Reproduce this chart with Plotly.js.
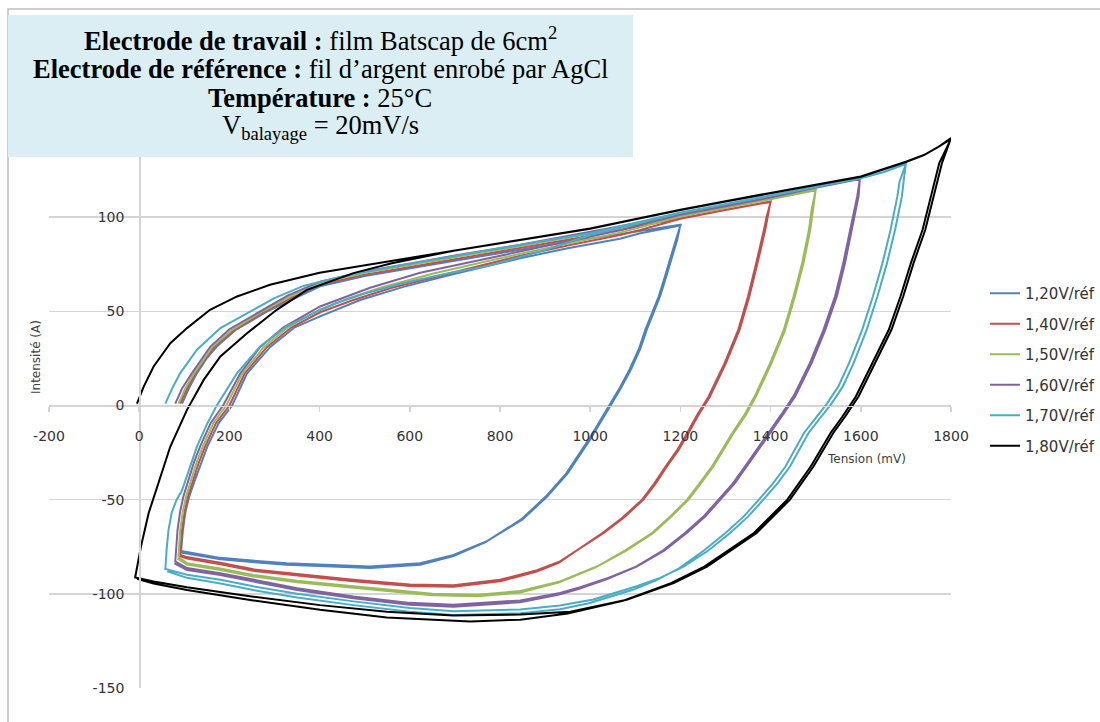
<!DOCTYPE html>
<html>
<head>
<meta charset="utf-8">
<script src="https://cdn.plot.ly/plotly-3.0.1.min.js"></script>
<style>html,body{margin:0;padding:0;background:#fff;}#chart{width:1100px;height:722px;}</style>
</head>
<body>
<div id="chart"></div>
<script>
// ---------- Tick labels ----------
const xTickVals = [-200, 0, 200, 400, 600, 800, 1000, 1200, 1400, 1600, 1800];
const xTickText = ["-200", "0", "200", "400", "600", "800", "1000", "1200", "1400", "1600", "1800"];
const yTickVals = [-150, -100, -50, 0, 50, 100, 150];
const yTickText = ["-150", "-100", "-50", "0", "50", "100", "150"];

// ---------- Series names / colours ----------
const seriesNames = ["1,20V/réf", "1,40V/réf", "1,50V/réf", "1,60V/réf", "1,70V/réf", "1,80V/réf"];
const seriesColors = ["#4F81BD", "#C0504D", "#9BBB59", "#8064A2", "#4BACC6", "#000000"];

// ---------- Info box lines ----------
const infoLines = [
  '<b>Electrode de travail :</b> film Batscap de 6cm<sup>2</sup>',
  '<b>Electrode de référence :</b> fil d’argent enrobé par AgCl',
  '<b>Température :</b> 25°C',
  'V<sub>balayage</sub> = 20mV/s'
];

// ---------- 1,20V/réf ----------
const v120_up1_x = [95, 110, 128, 151, 172, 213, 284, 345, 401, 500, 623, 720, 845, 950, 1066, 1130, 1200];
const v120_up1_y = [1, 9, 17.2, 25.5, 31.3, 40, 50, 57, 63.3, 68.8, 73.8, 77.8, 82.7, 87, 91, 93.5, 96];
const v120_down1_x = [1193, 1181, 1168, 1155, 1140, 1125, 1111, 1090, 1066, 1035, 1000, 950, 904, 850, 771, 697, 623, 512, 400, 327, 250, 180, 93];
const v120_down1_y = [88, 79, 68, 58, 49, 40, 30, 19, 8.3, -4, -18, -36, -48.5, -60.5, -72, -79.3, -83.7, -85.5, -84.5, -83.7, -82.3, -80.9, -77.2];
const v120_up2_x = [97, 103, 111, 124, 137, 151, 176, 206, 239, 290, 345, 401, 490, 586, 700, 845, 950, 1066, 1111, 1200];
const v120_up2_y = [-66, -56, -48.3, -39.4, -30.5, -21.8, -9.5, 0, 17, 31, 41.5, 47.3, 56, 63, 70, 78.2, 83.5, 88.5, 91.5, 95.5];
const v120_down2_x = [1190, 1178, 1165, 1152, 1137, 1122, 1108, 1087, 1063, 1032, 997, 947, 901, 847, 768, 697, 623, 512, 400, 327, 250, 180, 92];
const v120_down2_y = [88, 79, 68, 58, 49, 40, 30, 19, 8.3, -4, -18, -36, -48.5, -60.5, -72.5, -80, -84.5, -86.3, -85.3, -84.5, -83.1, -81.7, -78];

// ---------- 1,40V/réf ----------
const v140_up1_x = [91, 106, 125, 148, 167, 209, 279, 340, 401, 500, 623, 720, 845, 950, 1066, 1200, 1300, 1400];
const v140_up1_y = [1, 9, 17.2, 25.5, 31.3, 40, 50, 57.5, 64.2, 69.5, 74.5, 78.5, 83.5, 88, 93.2, 99.5, 104, 108.3];
const v140_down1_x = [1394, 1388, 1371, 1353, 1331, 1301, 1265, 1240, 1218, 1195, 1170, 1145, 1118, 1075, 1030, 980, 933, 882, 800, 697, 600, 475, 350, 253, 180, 106, 91];
const v140_down1_y = [100, 93, 75.6, 58, 40, 22.5, 4.5, -5, -14.6, -24, -32.4, -41.5, -50, -59.5, -67.7, -75.5, -82.8, -87.5, -92.5, -95.5, -95, -92.5, -89.5, -87, -83.5, -80.5, -79.3];
const v140_up2_x = [95, 101, 108, 120, 132, 146, 170, 200, 234, 283, 338, 401, 475, 560, 700, 845, 950, 1066, 1111, 1200, 1300, 1400];
const v140_up2_y = [-66, -56, -48.3, -39.4, -30.5, -21.8, -9.5, 0, 17, 31, 41.5, 49.5, 56, 62.5, 71, 79.5, 85, 90.5, 93.2, 99.2, 103.8, 108.1];
const v140_down2_x = [1391, 1385, 1368, 1350, 1328, 1298, 1262, 1237, 1215, 1192, 1167, 1142, 1115, 1072, 1027, 977, 930, 880, 800, 697, 600, 475, 350, 253, 180, 106, 89];
const v140_down2_y = [100, 93, 75.6, 58, 40, 22.5, 4.5, -5, -14.6, -24, -32.4, -41.5, -50, -59.5, -67.7, -76, -83.5, -88.3, -93.3, -96.3, -95.8, -93.3, -90.3, -87.8, -84.3, -81.3, -80];

// ---------- 1,50V/réf ----------
const v150_up1_x = [87, 102, 122, 145, 163, 205, 274, 336, 401, 500, 623, 720, 845, 950, 1066, 1200, 1300, 1400, 1500];
const v150_up1_y = [1, 9, 17.2, 25.5, 31.3, 40, 50, 58, 65, 70.5, 75.5, 79.5, 84.5, 89, 94.2, 100.6, 105, 109.8, 114.5];
const v150_down1_x = [1494, 1488, 1473, 1454, 1432, 1402, 1368, 1345, 1318, 1295, 1273, 1245, 1218, 1180, 1140, 1080, 1015, 933, 845, 750, 650, 475, 350, 253, 180, 106, 87];
const v150_down1_y = [104, 93.3, 75.6, 58, 40, 22.5, 5, -5, -14.6, -23.5, -32.4, -41.5, -50, -59, -67.7, -77, -85.5, -93.4, -98.5, -100.5, -100, -96, -93, -90, -86.5, -83.7, -80.5];
const v150_up2_x = [91, 97, 104, 115, 127, 141, 164, 193, 229, 276, 330, 401, 465, 535, 650, 845, 950, 1066, 1111, 1200, 1300, 1400, 1500];
const v150_up2_y = [-66, -56, -48.3, -39.4, -30.5, -21.8, -9.5, 0, 17, 31, 41.5, 51, 57, 62.5, 70, 80.6, 86, 91.8, 94.6, 100.3, 104.8, 109.6, 114.3];
const v150_down2_x = [1491, 1485, 1470, 1451, 1429, 1399, 1365, 1342, 1315, 1292, 1270, 1242, 1215, 1177, 1137, 1077, 1012, 930, 845, 750, 650, 475, 350, 253, 180, 106, 85];
const v150_down2_y = [104, 93.3, 75.6, 58, 40, 22.5, 5, -5, -14.6, -23.5, -32.4, -41.5, -50, -59, -67.7, -77, -86, -94, -99.3, -101.3, -100.8, -96.8, -93.8, -90.8, -87.3, -84.5, -81.3];

// ---------- 1,60V/réf ----------
const v160_up1_x = [80, 95, 117, 140, 158, 200, 268, 330, 401, 500, 623, 720, 845, 950, 1066, 1200, 1300, 1400, 1500, 1598];
const v160_up1_y = [1, 9, 17.2, 25.5, 31.3, 40.5, 50, 58.5, 65.8, 71.2, 76.4, 80.5, 85.3, 90, 95.2, 101.6, 106, 110.6, 115.8, 120.4];
const v160_down1_x = [1595, 1580, 1565, 1547, 1521, 1491, 1455, 1430, 1399, 1375, 1347, 1320, 1288, 1255, 1214, 1165, 1103, 1040, 978, 933, 845, 697, 600, 475, 350, 253, 180, 106, 80];
const v160_down1_y = [111, 93.3, 75.6, 58, 40, 22.5, 5, -4, -14.6, -23.5, -32.4, -41.5, -50, -59, -67.7, -77, -85.5, -91.5, -96.5, -99.5, -103.5, -105.8, -104.8, -101.4, -97, -92.5, -89, -86.3, -82.8];
const v160_up2_x = [85, 91, 98, 109, 121, 135, 158, 186, 224, 268, 320, 401, 450, 512, 623, 720, 845, 950, 1066, 1111, 1200, 1300, 1400, 1500, 1598];
const v160_up2_y = [-66, -56, -48.3, -39.4, -30.5, -21.8, -9.5, 0, 17, 31, 41.5, 52.6, 57, 62.5, 70.5, 75.5, 81.9, 87, 93, 96, 101.3, 105.8, 110.4, 115.6, 120.2];
const v160_down2_x = [1592, 1576, 1561, 1543, 1517, 1487, 1451, 1426, 1395, 1371, 1343, 1316, 1284, 1251, 1210, 1161, 1099, 1036, 974, 929, 845, 697, 600, 475, 350, 253, 180, 106, 78];
const v160_down2_y = [111, 93.3, 75.6, 58, 40, 22.5, 5, -4, -14.6, -23.5, -32.4, -41.5, -50, -59, -67.7, -77, -86, -92.3, -97.5, -100.5, -104.5, -106.8, -105.8, -102.4, -98, -93.5, -90, -87.3, -83.8];

// ---------- 1,70V/réf ----------
const v170_up1_x = [58, 75, 91, 128, 180, 246, 300, 364, 450, 549, 700, 850, 1000, 1111, 1200, 1300, 1400, 1500, 1600, 1650, 1700];
const v170_up1_y = [1, 10, 17.2, 29.6, 41.1, 50, 57, 63.5, 68.5, 73.2, 79.5, 85.5, 91.5, 97.6, 102.5, 107, 111.5, 116.3, 120.9, 124, 128.5];
const v170_down1_x = [1695, 1691, 1676, 1658, 1637, 1613, 1584, 1560, 1535, 1512, 1484, 1443, 1415, 1384, 1350, 1310, 1262, 1207, 1155, 1103, 1050, 1007, 933, 845, 697, 600, 475, 350, 253, 180, 106, 58];
const v170_down1_y = [119, 110.9, 93.3, 75.6, 58, 40.2, 22.5, 10, 1, -6, -14.6, -32.4, -41.5, -50, -59, -67.7, -77, -85.5, -91.5, -96, -100, -103, -106.2, -108.3, -109.3, -107.5, -104, -100, -96, -92.5, -89.9, -86.8];
const v170_up2_x = [61, 65, 72, 83, 95, 105, 116, 128, 150, 172, 217, 268, 327, 400, 438, 500, 586, 680, 771, 900, 1000, 1111, 1200, 1300, 1400, 1500, 1600, 1650, 1700];
const v170_up2_y = [-76, -66, -57, -50, -45, -38, -30, -21.8, -10, 0, 17.2, 31.3, 42, 50.5, 54.4, 59.5, 65, 70, 74, 82.5, 90.5, 97.2, 102.2, 106.8, 111.3, 116, 120.7, 123.8, 128.2];
const v170_down2_x = [1686, 1681, 1666, 1648, 1627, 1603, 1574, 1550, 1525, 1502, 1474, 1433, 1405, 1374, 1340, 1300, 1252, 1197, 1145, 1093, 1040, 997, 933, 845, 697, 600, 475, 350, 253, 180, 106, 62];
const v170_down2_y = [119, 110.9, 93.3, 75.6, 58, 40.2, 22.5, 10, 1, -6, -14.6, -32.4, -41.5, -50, -59, -67.7, -77, -86.5, -93, -98, -102, -105, -108.2, -110.3, -111.3, -109.5, -106, -102, -98, -94.5, -91.5, -88];

// ---------- 1,80V/réf ----------
const v180_up1_x = [-5, 10, 32, 69, 106, 157, 217, 290, 400, 550, 700, 850, 1000, 1111, 1200, 1300, 1400, 1500, 1600, 1700, 1740, 1770, 1800];
const v180_up1_y = [1, 10, 20.7, 33.1, 41.1, 50.8, 57.9, 64.1, 70.5, 76.5, 82.6, 88.2, 94, 99.6, 104, 108.5, 112.8, 117.1, 121.6, 129.5, 133, 137, 142];
const v180_down1_x = [1780, 1761, 1743, 1717, 1694, 1668, 1632, 1595, 1565, 1539, 1495, 1443, 1369, 1310, 1259, 1185, 1081, 956, 845, 697, 549, 401, 253, 106, 32, -9];
const v180_down1_y = [128.7, 110.9, 93.3, 75.6, 57.9, 40.2, 22.5, 4.8, -6, -14.6, -32.4, -50, -67.7, -77.2, -85.5, -94.3, -103.1, -109.5, -111, -111.5, -109.5, -106, -101.5, -96.5, -93.5, -91.3];
const v180_up2_x = [4, 21, 32, 47, 69, 106, 143, 180, 239, 305, 372, 475, 560, 700, 850, 1000, 1111, 1200, 1300, 1400, 1500, 1600, 1700, 1740, 1770, 1800];
const v180_up2_y = [-74.8, -57.1, -49, -38, -21.8, -2.3, 13.6, 26, 38.4, 50.8, 61.4, 70.3, 75.5, 82.3, 88, 93.8, 99.4, 103.8, 108.3, 112.6, 117, 121.5, 129.3, 133, 137, 141.5];
const v180_down2_x = [1774, 1755, 1737, 1711, 1688, 1662, 1626, 1589, 1559, 1533, 1489, 1437, 1363, 1304, 1253, 1179, 1075, 950, 845, 734, 549, 401, 253, 106, 32, -5];
const v180_down2_y = [128.7, 110.9, 93.3, 75.6, 57.9, 40.2, 22.5, 4.8, -6, -14.6, -32.4, -50, -67.7, -77.2, -85.5, -94.3, -103.5, -110.5, -113.7, -114.7, -112.5, -108.4, -103.5, -98, -94.5, -92];

// ---------- Build traces ----------
const seriesData = [
  [[v120_up1_x, v120_up1_y], [v120_down1_x, v120_down1_y], [v120_up2_x, v120_up2_y], [v120_down2_x, v120_down2_y]],
  [[v140_up1_x, v140_up1_y], [v140_down1_x, v140_down1_y], [v140_up2_x, v140_up2_y], [v140_down2_x, v140_down2_y]],
  [[v150_up1_x, v150_up1_y], [v150_down1_x, v150_down1_y], [v150_up2_x, v150_up2_y], [v150_down2_x, v150_down2_y]],
  [[v160_up1_x, v160_up1_y], [v160_down1_x, v160_down1_y], [v160_up2_x, v160_up2_y], [v160_down2_x, v160_down2_y]],
  [[v170_up1_x, v170_up1_y], [v170_down1_x, v170_down1_y], [v170_up2_x, v170_up2_y], [v170_down2_x, v170_down2_y]],
  [[v180_up1_x, v180_up1_y], [v180_down1_x, v180_down1_y], [v180_up2_x, v180_up2_y], [v180_down2_x, v180_down2_y]]
];

const traces = seriesData.map(function (segs, i) {
  let xs = [], ys = [];
  segs.forEach(function (s) { xs = xs.concat(s[0]); ys = ys.concat(s[1]); });
  return {
    type: 'scatter', mode: 'lines', x: xs, y: ys,
    name: seriesNames[i], legendgroup: 'g' + i,
    line: {color: seriesColors[i], width: 2},
    hoverinfo: 'skip'
  };
});

// ---------- Layout ----------
const ML = 49, MR = 149, MT = 123, MB = 34, W = 1100, H = 722;
const PW = W - ML - MR, PH = H - MT - MB;
function px2x(p) { return (p - ML) / PW; }
function px2y(p) { return 1 - (p - MT) / PH; }

const infoCenters = [39, 69, 98.5, 127];
const infoAnnotations = infoLines.map(function (t, i) {
  return {xref: 'paper', yref: 'paper', x: px2x(320), y: px2y(infoCenters[i]),
          xanchor: 'center', yanchor: 'middle', align: 'center', showarrow: false, text: t,
          font: {family: 'Liberation Serif, serif', size: 26.5, color: '#000000'}};
});

const layout = {
  width: W, height: H,
  margin: {l: ML, r: MR, t: MT, b: MB, pad: 0, autoexpand: false},
  paper_bgcolor: '#ffffff', plot_bgcolor: '#ffffff',
  font: {family: 'DejaVu Sans, sans-serif', color: '#333333', size: 14},
  showlegend: true,
  xaxis: {
    range: [-200, 1800], tickmode: 'array', tickvals: xTickVals, ticktext: xTickText,
    anchor: 'free', position: 0.5, showgrid: false, zeroline: false,
    showline: true, linecolor: '#D4D4D4', linewidth: 1.5,
    ticks: 'outside', ticklen: 5, tickcolor: '#D4D4D4', tickwidth: 1.5,
    tickfont: {size: 14, color: '#333333', family: 'DejaVu Sans, sans-serif'},
    ticklabelstandoff: 12, fixedrange: true, automargin: false
  },
  yaxis: {
    range: [-150, 150], tickmode: 'array', tickvals: yTickVals, ticktext: yTickText,
    anchor: 'free', position: 0.1, showgrid: true, gridcolor: '#D4D4D4', gridwidth: 1.5,
    zeroline: false, showline: true, linecolor: '#D4D4D4', linewidth: 1.5,
    ticks: '', tickfont: {size: 14, color: '#333333', family: 'DejaVu Sans, sans-serif'},
    ticklabelstandoff: 12, fixedrange: true, automargin: false
  },
  legend: {
    x: px2x(985), xanchor: 'left', y: px2y(277), yanchor: 'top',
    font: {size: 15, color: '#333333', family: 'DejaVu Sans, sans-serif'},
    traceorder: 'grouped', tracegroupgap: 8, bgcolor: 'rgba(0,0,0,0)', borderwidth: 0
  },
  shapes: [
    {type: 'rect', xref: 'paper', yref: 'paper', x0: px2x(8), x1: px2x(1110), y0: px2y(730), y1: px2y(9),
     line: {color: '#BFBFBF', width: 1.5}, fillcolor: 'rgba(0,0,0,0)', layer: 'above'},
    {type: 'rect', xref: 'paper', yref: 'paper', x0: px2x(8), x1: px2x(633), y0: px2y(157), y1: px2y(15),
     line: {width: 0}, fillcolor: '#DAEEF3', layer: 'above'}
  ],
  annotations: infoAnnotations.concat([
    {xref: 'paper', yref: 'paper', x: px2x(866), y: px2y(459), xanchor: 'center', yanchor: 'middle',
     showarrow: false, text: 'Tension (mV)', font: {family: 'DejaVu Sans, sans-serif', size: 12, color: '#404040'}},
    {xref: 'paper', yref: 'paper', x: px2x(36), y: px2y(357), xanchor: 'center', yanchor: 'middle',
     showarrow: false, textangle: -90, text: 'Intensité (A)', font: {family: 'DejaVu Sans, sans-serif', size: 12, color: '#404040'}}
  ])
};

Plotly.newPlot('chart', traces, layout, {displayModeBar: false, staticPlot: true});
</script>
</body>
</html>
